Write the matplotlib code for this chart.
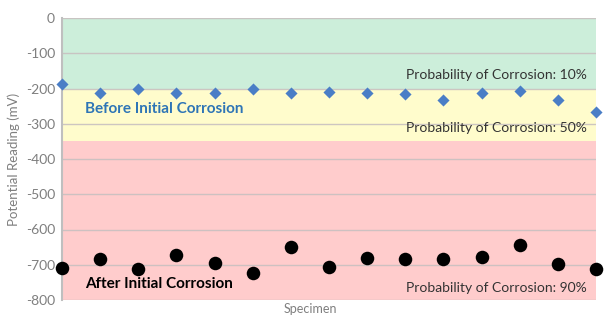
import matplotlib
matplotlib.use("Agg")
import matplotlib.pyplot as plt
import numpy as np

specimens = list(range(1, 16))
before = [-187, -212, -200, -212, -214, -202, -212, -210, -214, -216, -233, -214, -206, -233, -268]
after = [-710, -683, -713, -673, -696, -722, -649, -706, -682, -683, -683, -677, -644, -697, -713]
yticks = [0, -100, -200, -300, -400, -500, -600, -700, -800]
zones = [(-200, 0, "#CCEEDA"), (-350, -200, "#FFFCCC"), (-800, -350, "#FFCCCC")]

plt.rcParams['font.family'] = ['Lato', 'DejaVu Sans']

fig = plt.figure(figsize=(6.05, 3.16), dpi=100)
ax = fig.add_axes([62/605, 1-300/316, (596-62)/605, (300-18)/316])

for lo, hi, c in zones:
    ax.axhspan(lo, hi, color=c, zorder=0, lw=0)
for y in yticks:
    ax.axhline(y, color="#C8C0C0", lw=1.0, zorder=1, alpha=0.9)

ax.scatter(specimens, before, marker="D", s=38, color="#4A7EC6", zorder=3, lw=0, clip_on=False)
ax.scatter(specimens, after, marker="o", s=95, color="#000000", zorder=3, lw=0, clip_on=False)

ax.set_xlim(1, 15)
ax.set_ylim(-800, 0)
ax.set_yticks(yticks)
ax.set_yticklabels([str(v) for v in yticks], color="#7F7F7F", fontsize=10)
ax.tick_params(axis='y', length=0, pad=5)
ax.set_xticks([])
for s in ["top", "right", "bottom"]:
    ax.spines[s].set_visible(False)
ax.spines["left"].set_color("#BFBFBF")
ax.spines["left"].set_linewidth(1.5)

ax.set_ylabel("Potential Reading (mV)", color="#7F7F7F", fontsize=9.5, labelpad=4)

ax.text(1.6, -257, "Before Initial Corrosion", color="#2E75B6", fontweight="bold", fontsize=11, va="center", ha="left")
ax.text(1.6, -755, "After Initial Corrosion", color="#000000", fontweight="bold", fontsize=11, va="center", ha="left")
for y, lab in [(-162, "10%"), (-312, "50%"), (-765, "90%")]:
    ax.text(14.75, y, "Probability of Corrosion: " + lab, color="#333333", fontsize=10, va="center", ha="right")

fig.text(310/605, 1/316, "Specimen", color="#7F7F7F", fontsize=9, ha="center", va="bottom")

fig.savefig("out.png", dpi=100)
